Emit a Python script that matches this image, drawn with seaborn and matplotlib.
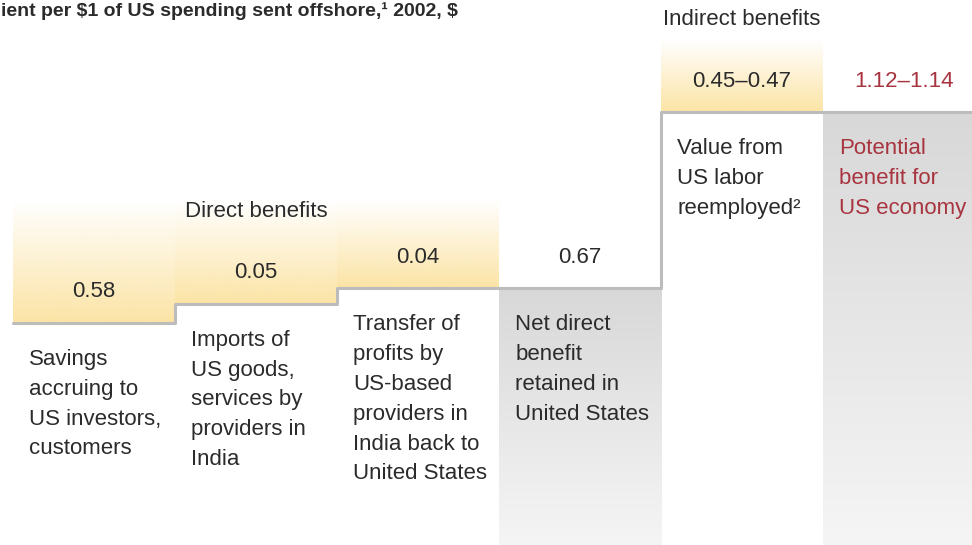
import matplotlib
matplotlib.use("Agg")
import matplotlib.pyplot as plt
from matplotlib import font_manager
import numpy as np
import seaborn as sns

# Benefit per $1 of US spending sent offshore, 2002, $
categories = [
    "Savings\naccruing to\nUS investors,\ncustomers",
    "Imports of\nUS goods,\nservices by\nproviders in\nIndia",
    "Transfer of\nprofits by\nUS-based\nproviders in\nIndia back to\nUnited States",
    "Net direct\nbenefit\nretained in\nUnited States",
    "Value from\nUS labor\nreemployed\u00b2",
    "Potential\nbenefit for\nUS economy",
]
values_low = [0.58, 0.05, 0.04, 0.67, 0.45, 1.12]
values_high = [0.58, 0.05, 0.04, 0.67, 0.47, 1.14]
value_labels = ["0.58", "0.05", "0.04", "0.67", "0.45\u20130.47", "1.12\u20131.14"]
kinds = ["direct", "direct", "direct", "total", "indirect", "total"]
title = "ient per \\$1 of US spending sent offshore,\u00b9 2002, \\$"

# cumulative level reached after each column (midpoint of the range)
levels = []
running = 0.0
for lo, hi, k in zip(values_low, values_high, kinds):
    v = (lo + hi) / 2
    if k == "total":
        running = v
    else:
        running += v
    levels.append(round(running, 3))

sns.set_theme(style="white")
available = {f.name for f in font_manager.fontManager.ttflist}
narrow = "Liberation Sans Narrow" in available
font_name = "Liberation Sans Narrow" if narrow else "Liberation Sans"
plt.rcParams["font.family"] = [font_name, "DejaVu Sans"]
fs = 18 if narrow else 16

TEXT = "#2b2b2b"
RED = "#a8343f"
YELLOW = np.array([252, 228, 165]) / 255
GRAY_TOP = np.array([216, 216, 216]) / 255
GRAY_BOT = np.array([245, 245, 245]) / 255

fig = plt.figure(figsize=(9.72, 5.45), dpi=100)
ax = fig.add_axes([0, 0, 1, 1])
xlim = (-0.08, 5.92)
ylim = (0.0, 1.423)


def gradient(patch, c_bottom, c_top, a_bottom=1.0, a_top=1.0):
    x0, y0 = patch.get_x(), patch.get_y()
    x1, y1 = x0 + patch.get_width(), y0 + patch.get_height()
    t = np.linspace(0, 1, 256)[:, None]
    rgb = c_bottom[None, :] * (1 - t) + c_top[None, :] * t
    alpha = a_bottom * (1 - t) + a_top * t
    img = np.concatenate([rgb, alpha], axis=1)[:, None, :]
    im = ax.imshow(img, extent=[x0, x1, y0, y1], origin="lower",
                   aspect="auto", interpolation="bicubic", zorder=1)
    im.set_clip_path(patch)


xs = np.arange(len(categories)) + 0.5
band_top = {"direct": 0.90, "indirect": 1.318}

for i, kind in enumerate(kinds):
    if kind == "total":
        bar = ax.bar(xs[i], levels[i], width=1.0, color="none", linewidth=0)[0]
        gradient(bar, GRAY_BOT, GRAY_TOP)
    else:
        h = band_top[kind] - levels[i]
        bar = ax.bar(xs[i], h, bottom=levels[i], width=1.0, color="none", linewidth=0)[0]
        gradient(bar, YELLOW, YELLOW, 1.0, 0.0)

# step edge drawn through the cumulative levels
edges = np.arange(len(categories) + 1)
sns.lineplot(x=edges, y=levels + [levels[-1]], drawstyle="steps-post",
             color="#bcbcbc", linewidth=2.2, ax=ax, zorder=3)

for i, (cat, lab) in enumerate(zip(categories, value_labels)):
    col = RED if i == len(categories) - 1 else TEXT
    ax.text(xs[i], levels[i] + 0.081, lab, ha="center", va="center",
            fontsize=fs, color=col, zorder=4)
    ax.text(i + 0.1, levels[i] - 0.068, cat, ha="left", va="top",
            fontsize=fs, color=col, linespacing=1.55, zorder=4)

ax.text(1.5, 0.872, "Direct benefits", ha="center", va="center",
        fontsize=fs, color=TEXT, zorder=4)
ax.text(4.5, 1.371, "Indirect benefits", ha="center", va="center",
        fontsize=fs, color=TEXT, zorder=4)
ax.text(-0.075, 1.418, title, ha="left", va="top",
        fontsize=fs - 2, fontweight="bold", color=TEXT)

ax.set_xlim(*xlim)
ax.set_ylim(*ylim)
ax.axis("off")
fig.savefig("out.png", dpi=100, facecolor="white")
